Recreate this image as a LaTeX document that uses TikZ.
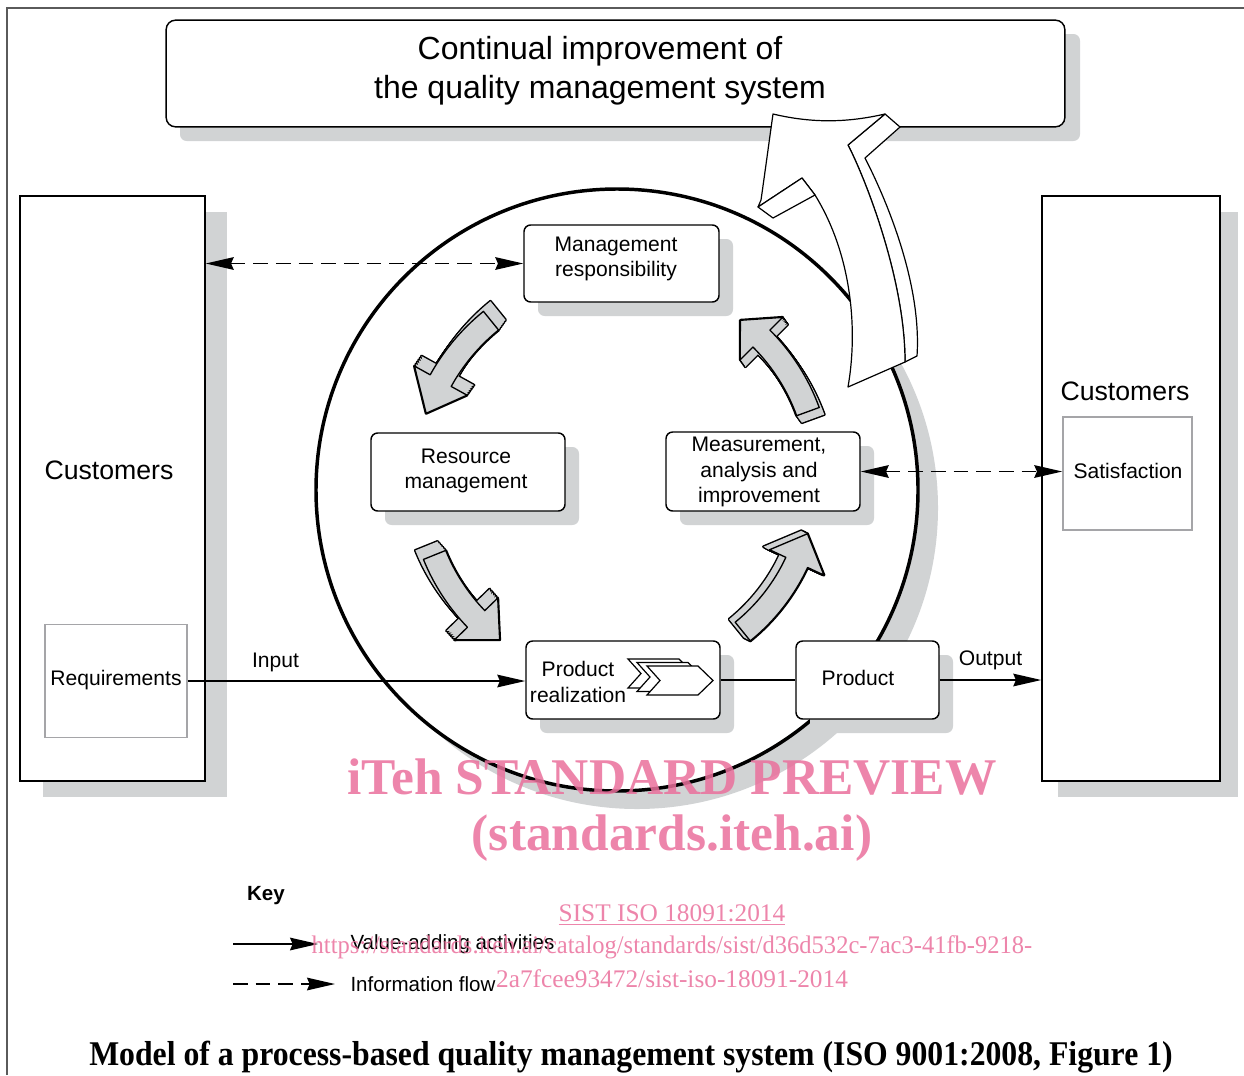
\documentclass[tikz,border=0pt]{standalone}
\usepackage{fontspec}
\setmainfont{Liberation Sans}
\newfontfamily\markfont{Liberation Serif}
\usetikzlibrary{arrows.meta}

\definecolor{shadowgray}{RGB}{209,211,212}
\definecolor{framegray}{RGB}{90,90,90}
\definecolor{subgray}{RGB}{165,165,168}
\definecolor{markpink}{RGB}{234,112,156}

\tikzset{every picture/.style={line width=0.75pt}}
\tikzset{
  ktip/.tip={Stealth[length=21pt,width=9.5pt,inset=2pt]},
  flow/.style={line width=1.1pt, -ktip},
  info/.style={line width=1.1pt, dash pattern=on 11pt off 6pt, ktip-ktip},
  infokey/.style={line width=1.1pt, dash pattern=on 11pt off 6pt, -ktip},
  panel/.style={draw, line width=1.1pt, fill=white, rounded corners=5pt, inner sep=0pt},
  cust/.style={draw, line width=1.1pt, fill=white, inner sep=0pt},
  subpanel/.style={draw=subgray, line width=1.1pt, fill=white, inner sep=0pt},
  lbl/.style={font=\fontsize{15.8}{19.3}\selectfont, align=center, inner sep=0pt},
  bigl/.style={font=\fontsize{20}{24}\selectfont, inner sep=0pt},
  wmark/.style={text=markpink, text opacity=0.85, inner sep=0pt}
}

% curved arrow of the cycle: radius, tail angle, base angle, tip angle
\newcommand{\cyclepath}[4]{(#2:{#1+12}) arc[start angle=#2, end angle=#3, radius={#1+12}] -- (#3:{#1+30}) -- (#4:#1) -- (#3:{#1-30}) -- (#3:{#1-12}) arc[start angle=#3, end angle=#2, radius={#1-12}] -- cycle}
% extruded version: #5,#6 depth offset
\newcommand{\cyclearrow}[6]{%
  \foreach \s in {0,0.2,...,1} {\draw[line width=2.2pt, line join=round, shift={({\s*(#5)},{\s*(#6)})}] \cyclepath{#1}{#2}{#3}{#4};}
  \foreach \s in {0,0.2,...,1} {\fill[shadowgray, shift={({\s*(#5)},{\s*(#6)})}] \cyclepath{#1}{#2}{#3}{#4};}
  \draw[fill=shadowgray, line width=1pt, line join=round] \cyclepath{#1}{#2}{#3}{#4};
}

\begin{document}
\begin{tikzpicture}[x=0.75pt,y=0.75pt,yscale=-1,xscale=1]
\useasboundingbox (0,0) rectangle (1244,1075);

%Straight Lines: frame
\draw [framegray, line width=1.1pt] (7,1075) -- (7,8) -- (1244,8) ;

%Shape: shadows of the large boxes
\fill [shadowgray, rounded corners=5pt] (180,34) rectangle (1080,141) ;
\fill [shadowgray] (43,212) rectangle (227,797) ;
\fill [shadowgray] (1058,212) rectangle (1238,797) ;
%Shape: Circle shadow
\fill [shadowgray] (637,508) circle [radius=301] ;
%Shape: Circle
\draw [line width=2.6pt, fill=white] (617,490) circle [radius=301] ;

%Shape: shadows of the small boxes
\fill [shadowgray, rounded corners=5pt] (538,239) rectangle (733,316) ;
\fill [shadowgray, rounded corners=5pt] (385,447) rectangle (579,525) ;
\fill [shadowgray, rounded corners=5pt] (680,446) rectangle (874,525) ;
\fill [shadowgray, rounded corners=5pt] (540,655) rectangle (734,733) ;
\fill [shadowgray, rounded corners=5pt] (810,655) rectangle (953,733) ;

% Boxes
\node [panel, rounded corners=7pt, minimum width=674pt, minimum height=80pt] (improve) at (615.5,73.5) {};
\node [font=\fontsize{24}{29}\selectfont, align=center, inner sep=0pt] (improvetxt) at (600,71) {Continual improvement of\\the quality management system};

\node [cust, minimum width=138.75pt, minimum height=438.75pt] (custL) at (112.5,488.5) {};
\node [bigl] (custLtxt) at (109,470) {Customers};
\node [subpanel, minimum width=106.5pt, minimum height=84.75pt] (req) at (116,681) {};
\node [lbl] (reqtxt) at (116,680) {Requirements};

\node [cust, minimum width=133.5pt, minimum height=438.75pt] (custR) at (1131,488.5) {};
\node [bigl] (custRtxt) at (1125,391) {Customers};
\node [subpanel, minimum width=96.75pt, minimum height=84.75pt] (sat) at (1127.5,473.5) {};
\node [lbl] (sattxt) at (1128,471) {Satisfaction};

\node [panel, minimum width=146.25pt, minimum height=57.75pt] (mgmt) at (621.5,263.5) {};
\node [lbl] (mgmttxt) at (616,259) {Management\\responsibility};
\node [panel, minimum width=145.5pt, minimum height=58.5pt] (res) at (468,472) {};
\node [lbl] (restxt) at (466,471) {Resource\\management};
\node [panel, minimum width=145.5pt, minimum height=59.25pt] (meas) at (763,471.5) {};
\node [lbl] (meastxt) at (759,472) {Measurement,\\analysis and\\improvement};
\node [panel, minimum width=145.5pt, minimum height=58.5pt] (real) at (623,680) {};
\node [lbl] (realtxt) at (578,682) {Product\\realization};
\node [panel, minimum width=107.25pt, minimum height=58.5pt] (prod) at (867.5,680) {};
\node [lbl] (prodtxt) at (858,678) {Product};

%Shape: chevrons of product realization
\foreach \dx/\dy in {628/659, 637/662.5, 647/666}
  \draw [fill=white, line width=0.9pt] (\dx,\dy) -- ++(51,0) -- ++(15,14.5) -- ++(-15,14.5) -- ++(-51,0) -- ++(13,-14.5) -- cycle ;

% Connectors
\draw [flow] (req.east) -- (req.east -| real.west) node [pos=0.26, above=6pt, lbl] (inputtxt) {Input} ;
\draw [line width=1.1pt] (real.east) -- (prod.west) ;
\draw [flow] (prod.east) -- (prod.east -| custR.west) node [midway, above=7pt, lbl] (outputtxt) {Output} ;
\draw [info] (custL.east |- mgmt.west) -- (mgmt.west) ;
\draw [info] (meas.east) -- (meas.east -| sat.west) ;

%Shape: cycle arrows
\begin{scope}[shift={(620,480)}]
\cyclearrow{205}{231}{209}{199}{7}{-10}
\cyclearrow{200}{158}{136}{127}{-8}{-9}
\cyclearrow{195}{51}{25}{16}{-6}{-3}
\cyclearrow{200}{-20}{-45}{-53}{5}{7}
\end{scope}

%Shape: improvement arrow
\draw [fill=white, line width=0.9pt, line join=round] (848,145) -- (885,114) -- (900,127) -- (865,158) .. controls (883,193) and (922,280) .. (917,356) -- (905,362) .. controls (905,280) and (866,180) .. (848,145) -- cycle ;
\draw [fill=white, line width=0.9pt, line join=round] (773,114) .. controls (815,124) and (850,122) .. (885,114) -- (848,145) .. controls (866,180) and (905,280) .. (905,362) -- (848,387) .. controls (858,330) and (852,255) .. (815,195) -- (802,178) -- (758,207) -- (761,200) .. controls (766,165) and (770,135) .. (773,114) -- cycle ;
\draw [fill=white, line width=0.9pt, line join=round] (758,207) -- (802,178) -- (815,195) -- (773,218) -- cycle ;

% Key
\node [font=\bfseries\fontsize{15.4}{18}\selectfont, inner sep=0pt] (key) at (266,896) {Key};
\coordinate (ka) at (233,944) ;
\coordinate (kb) at (318,944) ;
\coordinate (kc) at (233,984) ;
\coordinate (kd) at (335,984) ;
\draw [flow] (ka) -- (kb) ;
\draw [infokey] (kc) -- (kd) ;
\node [anchor=west, font=\fontsize{15.4}{18}\selectfont, inner sep=0pt] (valtxt) at (350,944) {Value-adding activities};
\node [anchor=west, font=\fontsize{15.4}{18}\selectfont, inner sep=0pt] (inftxt) at (350,984) {Information flow};

% Watermark
\node [wmark, font=\markfont\bfseries\fontsize{38.6}{40}\selectfont] (wm1) at (672,777) {iTeh STANDARD PREVIEW};
\node [wmark, font=\markfont\bfseries\fontsize{38.6}{40}\selectfont] (wm2) at (672,838) {(standards.iteh.ai)};
\node [wmark, font=\markfont\fontsize{19}{22}\selectfont] (wm3) at (672,915) {\underline{SIST ISO 18091:2014}};
\node [wmark, font=\markfont\fontsize{19}{22}\selectfont] (wm4) at (672,947) {\scalebox{0.968}[1]{https://standards.iteh.ai/catalog/standards/sist/d36d532c-7ac3-41fb-9218-}};
\node [wmark, font=\markfont\fontsize{19}{22}\selectfont] (wm5) at (672,979) {2a7fcee93472/sist-iso-18091-2014};

% Caption
\node [inner sep=0pt] (caption) at (631,1057) {\scalebox{0.915}[1]{\markfont\bfseries\fontsize{26}{30}\selectfont Model of a process-based quality management system (ISO 9001:2008, Figure 1)}};

\end{tikzpicture}
\end{document}
